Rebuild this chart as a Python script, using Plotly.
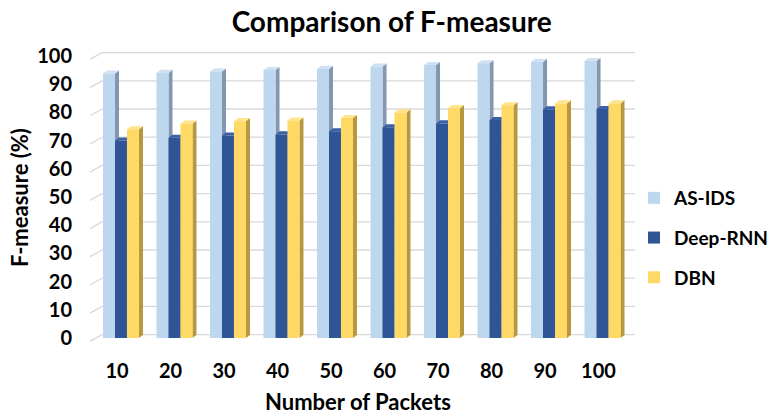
import plotly.graph_objects as go

# F-measure (%) per number of packets
packets = ["10", "20", "30", "40", "50", "60", "70", "80", "90", "100"]
as_ids = [93.8, 94.0, 94.5, 95.0, 95.4, 96.2, 96.8, 97.4, 97.9, 98.2]
deep_rnn = [70.0, 71.0, 71.8, 72.2, 73.3, 74.7, 76.1, 77.3, 81.1, 81.2]
dbn = [74.0, 76.0, 76.9, 77.1, 78.0, 80.0, 81.5, 82.5, 83.2, 83.2]
y_ticks = list(range(0, 101, 10))

FONT = "Lato"
# name, values, front, top, side colours
series = [
    ("AS-IDS", as_ids, "#bdd7ee", "#cfe1f3", "#8497b0"),
    ("Deep-RNN", deep_rnn, "#2f5597", "#3b62a6", "#1f3864"),
    ("DBN", dbn, "#ffd966", "#ffe48c", "#b8983f"),
]
bar_w = 0.224
offsets = [-0.336, -0.112, 0.112]
depth_x = 0.075   # pseudo-3D depth, x data units
depth_y = 1.1     # pseudo-3D depth, y data units
xs = list(range(len(packets)))

fig = go.Figure()

# side and top faces of the extruded columns (drawn behind the fronts)
for (name, vals, front, top, side), off in zip(series, offsets):
    sx, sy, tx, ty = [], [], [], []
    for x, v in zip(xs, vals):
        xl = x + off
        xr = xl + bar_w
        sx += [xr, xr + depth_x, xr + depth_x, xr, xr, None]
        sy += [0, depth_y, v + depth_y, v, 0, None]
        tx += [xl, xl + depth_x, xr + depth_x, xr, xl, None]
        ty += [v, v + depth_y, v + depth_y, v, v, None]
    fig.add_trace(go.Scatter(x=sx, y=sy, fill="toself", fillcolor=side, mode="none",
                             showlegend=False, hoverinfo="skip", zorder=0))
    fig.add_trace(go.Scatter(x=tx, y=ty, fill="toself", fillcolor=top, mode="none",
                             showlegend=False, hoverinfo="skip", zorder=0))

for i, ((name, vals, front, top, side), off) in enumerate(zip(series, offsets)):
    fig.add_trace(go.Bar(
        x=xs, y=vals, name=f"<b>{name}</b>", width=bar_w, offset=off,
        marker=dict(color=front, line=dict(width=0)),
        legendgroup=f"g{i}", zorder=1,
    ))

# back-wall gridlines with the short slanted floor edge at the left
shapes = []
for t in y_ticks:
    shapes.append(dict(type="line", xref="paper", yref="y", x0=0, x1=0.022,
                       y0=t - 1.2, y1=t + 1.2, line=dict(color="#d9d9d9", width=1.3),
                       layer="below"))
    shapes.append(dict(type="line", xref="paper", yref="y", x0=0.022, x1=1,
                       y0=t + 1.2, y1=t + 1.2, line=dict(color="#d9d9d9", width=1.3),
                       layer="below"))

fig.update_layout(
    width=768, height=415,
    margin=dict(l=90, r=133, t=45, b=70, autoexpand=False),
    paper_bgcolor="white", plot_bgcolor="white",
    barmode="overlay",
    shapes=shapes,
    font=dict(family=FONT, color="#000000"),
    title=dict(text="<b>Comparison of F-measure</b>", x=0.51, xanchor="center",
               y=0.947, yanchor="middle", font=dict(size=28, family=FONT, color="#000000")),
    xaxis=dict(range=[-0.579, 9.607], tickvals=xs, ticktext=[f"<b>{p}</b>" for p in packets],
               showgrid=False, zeroline=False, showline=False, ticks="",
               tickfont=dict(size=20, family=FONT, color="#000000"),
               ticklabelshift=-4, ticklabelstandoff=12),
    yaxis=dict(range=[-2.48, 103.9], tickvals=y_ticks, ticktext=[f"<b>{t}</b>" for t in y_ticks],
               showgrid=False, zeroline=False, showline=False, ticks="",
               tickfont=dict(size=20, family=FONT, color="#000000"),
               ticklabelstandoff=17),
    legend=dict(xref="container", yref="container", x=634 / 768, y=1 - 238 / 415,
                xanchor="left", yanchor="middle",
                font=dict(size=19, family=FONT, color="#000000"),
                tracegroupgap=12, bgcolor="rgba(0,0,0,0)"),
    annotations=[
        dict(text="<b>Number of Packets</b>", xref="paper", yref="paper",
             x=(358 - 90) / 545, y=(345 - 401) / 300, xanchor="center", yanchor="middle",
             showarrow=False, font=dict(size=22, family=FONT, color="#000000")),
        dict(text="<b>F-measure (%)</b>", xref="paper", yref="paper", textangle=-90,
             x=(19 - 90) / 545, y=(345 - 198) / 300, xanchor="center", yanchor="middle",
             showarrow=False, font=dict(size=22, family=FONT, color="#000000")),
    ],
)

fig.write_html("out.html")
